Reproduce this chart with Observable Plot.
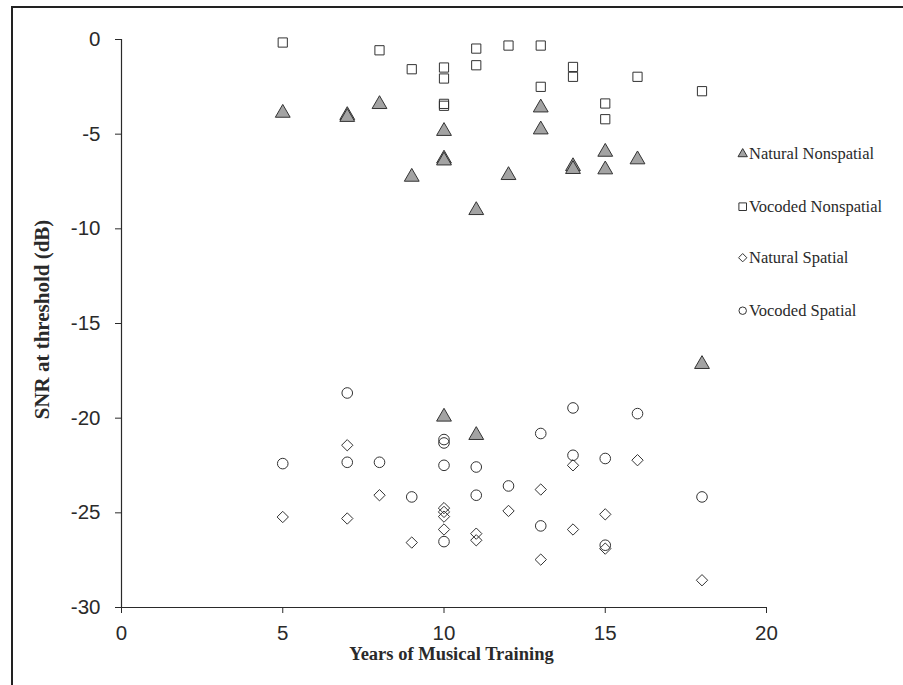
<!DOCTYPE html>
<html>
<head>
<meta charset="utf-8">
<script src="https://cdn.jsdelivr.net/npm/d3@7"></script>
<script src="https://cdn.jsdelivr.net/npm/@observablehq/plot@0.6"></script>
<style>
  html, body { margin: 0; padding: 0; background: #fff; }
  #wrap { position: relative; width: 903px; height: 685px; overflow: hidden; background: #fff; }
  #frame { position: absolute; left: 11px; top: 6px; right: -10px; bottom: -10px;
           border-top: 2px solid #222; border-left: 2px solid #222; pointer-events: none; }
  #chart { position: absolute; left: 0; top: 0; }
  #legend { position: absolute; left: 733px; top: 140px; }
</style>
</head>
<body>
<div id="wrap">
  <div id="chart"></div>
  <div id="legend"></div>
  <div id="frame"></div>
</div>
<script>
// ---- Data ----
const xTicks = [0, 5, 10, 15, 20];
const yTicks = [0, -5, -10, -15, -20, -25, -30];

const seriesNames = ["Natural Nonspatial", "Vocoded Nonspatial", "Natural Spatial", "Vocoded Spatial"];

const naturalNonspatialYears = [5, 7, 7, 8, 9, 10, 10, 10, 10, 11, 11, 12, 13, 13, 14, 14, 15, 15, 16, 18];
const naturalNonspatialSNR   = [-3.88, -4.0, -4.1, -3.42, -7.26, -4.84, -6.3, -6.4, -19.93, -9.02, -20.9, -7.17, -3.6, -4.76, -6.7, -6.85, -5.94, -6.87, -6.34, -17.15];

const vocodedNonspatialYears = [5, 8, 9, 10, 10, 10, 10, 11, 11, 12, 13, 13, 14, 14, 15, 15, 16, 18];
const vocodedNonspatialSNR   = [-0.16, -0.57, -1.57, -1.48, -2.06, -3.4, -3.5, -0.48, -1.36, -0.32, -0.32, -2.5, -1.45, -1.97, -3.38, -4.21, -1.97, -2.73];

const naturalSpatialYears = [5, 7, 7, 8, 9, 10, 10, 10, 10, 11, 11, 12, 13, 13, 14, 14, 15, 15, 16, 18];
const naturalSpatialSNR   = [-25.22, -21.43, -25.3, -24.07, -26.57, -24.75, -24.95, -25.2, -25.88, -26.1, -26.45, -24.9, -23.77, -27.47, -22.49, -25.88, -25.08, -26.89, -22.22, -28.56];

const vocodedSpatialYears = [5, 7, 7, 8, 9, 10, 10, 10, 10, 11, 11, 12, 13, 13, 14, 14, 15, 15, 16, 18];
const vocodedSpatialSNR   = [-22.4, -18.67, -22.33, -22.33, -24.16, -21.13, -21.31, -22.49, -26.52, -22.58, -24.07, -23.58, -20.81, -25.69, -19.46, -21.96, -22.13, -26.71, -19.76, -24.16];

const xLabel = "Years of Musical Training";
const yLabel = "SNR at threshold (dB)";

// ---- Build tables ----
const zip = (xs, ys) => xs.map((x, i) => ({years: x, snr: ys[i]}));
const natNon = zip(naturalNonspatialYears, naturalNonspatialSNR);
const vocNon = zip(vocodedNonspatialYears, vocodedNonspatialSNR);
const natSpa = zip(naturalSpatialYears, naturalSpatialSNR);
const vocSpa = zip(vocodedSpatialYears, vocodedSpatialSNR);

const ink = "#2a2a2a";
const triFill = "#a3a3a3";

const chart = Plot.plot({
  width: 903,
  height: 685,
  marginLeft: 121,
  marginRight: 137,
  marginTop: 39,
  marginBottom: 78,
  x: {domain: [0, 20]},
  y: {domain: [-30, 0]},
  style: {fontFamily: "'Liberation Sans', Arial, sans-serif", fontSize: "20.5px", color: ink, background: "transparent"},
  marks: [
    Plot.axisY({ticks: yTicks, tickSize: 6, tickPadding: 15, label: null, fontSize: 20.5, tickFormat: d => String(d).replace("\u2212", "-")}),
    Plot.axisX({ticks: xTicks, tickSize: 6, tickPadding: 12, label: null, fontSize: 20.5}),
    Plot.ruleX([0], {y1: -30, y2: 0, stroke: ink, strokeWidth: 1.2}),
    Plot.ruleY([-30], {x1: 0, x2: 20, stroke: ink, strokeWidth: 1.2}),
    Plot.dot(vocNon, {x: "years", y: "snr", symbol: "square", r: 5.2, fill: "none", stroke: "#333", strokeWidth: 1}),
    Plot.dot(vocSpa, {x: "years", y: "snr", symbol: "circle", r: 5.3, fill: "none", stroke: "#333", strokeWidth: 1}),
    Plot.dot(natSpa, {x: "years", y: "snr", symbol: "diamond2", r: 5.1, fill: "none", stroke: "#333", strokeWidth: 1}),
    Plot.dot(natNon, {x: "years", y: "snr", symbol: "triangle", r: 5.5, fill: triFill, stroke: "#333", strokeWidth: 1}),
    Plot.text([xLabel], {frameAnchor: "bottom", textAnchor: "middle", dx: 7.5, dy: 52, fontFamily: "'Liberation Serif', 'Times New Roman', serif",
      fontWeight: "bold", fontSize: 18.5, fill: ink}),
    Plot.text([yLabel], {frameAnchor: "left", textAnchor: "middle", rotate: -90, dx: -79, dy: -4, fontFamily: "'Liberation Serif', 'Times New Roman', serif",
      fontWeight: "bold", fontSize: 21, fill: ink})
  ]
});
document.getElementById("chart").appendChild(chart);

// ---- Legend ----
const legendItems = [
  {name: seriesNames[0], sym: d3.symbolTriangle, size: 38, fill: triFill},
  {name: seriesNames[1], sym: d3.symbolSquare, size: 58, fill: "none"},
  {name: seriesNames[2], sym: d3.symbolDiamond2, size: 44, fill: "none"},
  {name: seriesNames[3], sym: d3.symbolCircle, size: 44, fill: "none"}
];
const rowY = [14, 66.7, 117.7, 170.7];
const lsvg = d3.select("#legend").append("svg").attr("width", 170).attr("height", 200);
legendItems.forEach((it, i) => {
  const g = lsvg.append("g").attr("transform", `translate(9.7,${rowY[i]})`);
  g.append("path").attr("d", d3.symbol(it.sym, it.size)()).attr("fill", it.fill).attr("stroke", "#333").attr("stroke-width", 1);
  lsvg.append("text").attr("x", 16).attr("y", rowY[i] + 5.3)
    .attr("font-family", "'Liberation Serif', 'Times New Roman', serif").attr("font-size", 16.5)
    .attr("fill", ink).text(it.name);
});
</script>
</body>
</html>
